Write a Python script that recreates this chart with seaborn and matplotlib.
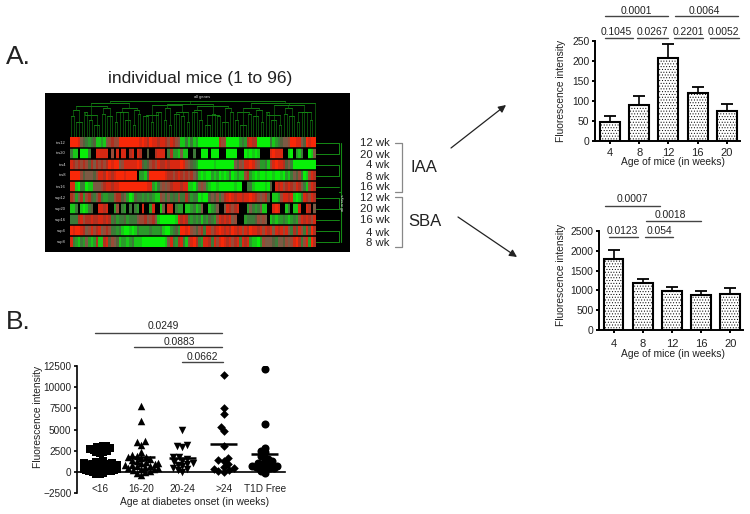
import matplotlib
matplotlib.use("Agg")
import matplotlib.pyplot as plt
from matplotlib.colors import ListedColormap
import numpy as np
import pandas as pd
import seaborn as sns

sns.set_style("white")
plt.rcParams["font.family"] = ["Liberation Sans", "DejaVu Sans"]
plt.rcParams["hatch.linewidth"] = 0.4

W, H = 750, 514
INK = "#222222"

# heat map, one digit per mouse: 0 = bright green ... 9 = bright red, x = no value
row_labels = ["ins12", "ins20", "ins4", "ins8", "ins16", "ssp12", "ssp20", "ssp16", "ssp4", "ssp8"]
heat_rows = [
    "999854323411 215676699999 999898798878 876876511313 120000000076 600000232787 700000312345 569988549899",
    "311x0003xx88 888x6x8x88x7 8x87xx4xx788 8x37221511xx 3xx000x000xx x0000xxx0101 01xxxx89888x x10x213xx015",
    "876767647576 767989956888 889843467687 787888898654 320000001000 000054658898 652231689887 453000000000",
    "999964555468 879878999899 99x221499999 987767876767 541010021201 013012116721 010010010010 213546301687",
    "881033011555 678878899999 999999882135 656788878811 025652100100 0000100xx331 0000104x8786 787687531687",
    "762572674357 322336774520 143323232116 535343633742 330100454635 789878878898 765674x11268 878101387687",
    "113x10134xx8 878xx26x32x3 x32x8xx28xx1 5x88x322x112 3125xx1235xx 587678xxx253 23511xx898xx 13x118xx87x5",
    "333786778778 878734233423 335667567510 000001878732 323132432687 87856xxx2333 46565x121223 212326878768",
    "989987568678 567633231001 013222232223 100234299896 546738867898 787987868798 878687858786 853748638497",
    "832132521271 178465412212 311100000000 015832783168 973288738689 878678387821 102655543554 656897368297",
]
heat_colors = ["#08f008", "#18c818", "#2a9a2a", "#3c7a38", "#56603c", "#7c5a44",
               "#984a36", "#b03020", "#d82812", "#f82808"]

# dendrogram: how many nodes join at each level, and the heights they join at
tree_sizes = [
    [2, 3, 2, 2, 3, 2, 3, 2, 2, 3, 2, 2, 3, 2, 3, 2, 2, 3, 2, 2, 3, 2, 3, 2, 2, 3, 2, 2, 3, 2, 3, 2, 2, 3, 2, 2, 3, 2, 3, 2, 1],
    [2, 3, 2, 3, 2, 3, 2, 3, 2, 3, 2, 3, 2, 3, 2, 3, 1],
    [3, 2, 3, 3, 2, 3, 1],
    [2, 2, 3],
    [3],
]
tree_heights = [[20, 15, 24, 17, 12, 22], [26, 21, 28, 24], [30, 28, 31], [33, 32], [35]]
row_tree_pairs = [(0, 1), (2, 3), (5, 6), (8, 9)]

ages = ["4", "8", "12", "16", "20"]
iaa_means = [48, 91, 207, 121, 74]
iaa_tops = [62, 113, 243, 135, 92]
sba_means = [1800, 1180, 990, 880, 900]
sba_tops = [2030, 1300, 1080, 980, 1060]

groups = ["<16", "16-20", "20-24", ">24", "T1D Free"]
group_markers = ["s", "^", "v", "D", "o"]
group_sizes = [5.4, 5.4, 5.4, 4.4, 5.8]
swarm_sizes = [2.6, 3.4, 3.6, 3.6, 2.6]
onset_lt16 = [3100, 3000, 2900, 2800, 2700, 2700, 2600, 2500, 2400, 2300, 2200, 1300, 1200, 1100, 1000, 1000, 900,
              900, 850, 800, 800, 750, 700, 700, 650, 600, 600, 550, 500, 500, 450, 400, 400, 350, 300, 300,
              250, 200, 200, 150, 100, 100, 50, 0, -100, -200, -300]
onset_16_20 = [7750, 6000, 3600, 3500, 3200, 2400, 2000, 1900, 1800, 1700, 1600, 1500, 1400, 1300, 1200, 1100, 1000,
               900, 850, 800, 700, 650, 600, 500, 400, 350, 300, 200, 100, 0, -100, -400]
onset_20_24 = [5000, 3200, 3000, 2900, 1800, 1700, 1500, 1300, 1200, 1000, 900, 800, 700, 500, 300, 200, 0]
onset_gt24 = [11400, 7500, 6800, 5300, 4800, 3100, 1600, 1400, 1300, 900, 600, 400, 300, 200, 100, 0]
onset_free = [12100, 5600, 2800, 2500, 2300, 1900, 1700, 1500, 1300, 1200, 1100, 1000, 900, 800, 700, 650, 600,
              550, 500, 450, 400, 300, 100, -100]
onset_values = [onset_lt16, onset_16_20, onset_20_24, onset_gt24, onset_free]
onset_means = [1300, 1750, 1600, 3300, 2150]

wk_labels = ["12 wk", "20 wk", "4 wk", "8 wk", "16 wk", "12 wk", "20 wk", "16 wk", "4 wk", "8 wk"]
wk_y = [143, 155, 165.5, 177, 187.5, 198, 209, 220, 232.5, 243]

# p value: text, text centre x, text y, line start, line end, line y
iaa_p = [("0.0001", 636, 11, 605, 668, 16), ("0.0064", 704, 11, 675, 738, 16),
         ("0.1045", 616, 32, 605, 633, 38), ("0.0267", 652, 32, 637, 668, 38),
         ("0.2201", 688, 32, 674, 703, 38), ("0.0052", 723, 32, 710, 739, 38)]
sba_p = [("0.0007", 632, 199, 605, 660, 206), ("0.0018", 670, 215, 646, 701, 221),
         ("0.0123", 622, 231, 609, 638, 237), ("0.054", 659, 231, 645, 673, 237)]
onset_p = [("0.0249", 163, 326, 95, 222, 333), ("0.0883", 179, 342, 134, 222, 347),
           ("0.0662", 202, 357, 182, 223, 362)]


def px_axes(fig, left, top, right, bottom):
    return fig.add_axes([left / W, 1 - bottom / H, (right - left) / W, (bottom - top) / H])


def draw_tree(ax):
    nodes = [(i + 0.5, 0) for i in range(96)]
    for sizes, heights in zip(tree_sizes, tree_heights):
        joined = []
        start = 0
        for k, size in enumerate(sizes):
            part = nodes[start:start + size]
            start += size
            if size == 1:
                joined.append(part[0])
                continue
            top = heights[k % len(heights)]
            for x, y in part:
                ax.plot([x, x], [y, top], color="#0f6a0f", lw=0.5)
            ax.plot([part[0][0], part[-1][0]], [top, top], color="#169016", lw=0.6)
            joined.append((np.mean([p[0] for p in part]), top))
        nodes = joined


def style_axes(ax, lw=1.4):
    sns.despine(ax=ax)
    for spine in ["left", "bottom"]:
        ax.spines[spine].set_linewidth(lw)
        ax.spines[spine].set_color("black")
    ax.tick_params(left=True, bottom=True, length=2.5, width=lw, labelsize=7.4,
                   labelcolor=INK, pad=1.5, color="black")


def bar_panel(fig, box, x0, means, tops, yticks, ymax, pad):
    ax = px_axes(fig, *box)
    sns.barplot(x=ages, y=means, order=ages, color="white", edgecolor="black", linewidth=1.5,
                hatch="......", width=0.68, saturation=1, ax=ax)
    err = np.array(tops) - np.array(means)
    ax.errorbar(range(len(ages)), means, yerr=[np.zeros(len(err)), err], fmt="none", ecolor="black",
                elinewidth=1.2, capsize=4.2, capthick=1.3)
    step = 29.2
    ax.set_xlim((box[0] - x0) / step, (box[2] - x0) / step)
    ax.set_ylim(0, ymax)
    ax.set_yticks(yticks)
    style_axes(ax)
    ax.tick_params(axis="x", pad=pad, labelsize=8)
    ax.set_xlabel("Age of mice (in weeks)", fontsize=7.4, color=INK, va="center")
    ax.set_ylabel("Fluorescence intensity", fontsize=7.4, color=INK, va="center")
    return ax


fig = plt.figure(figsize=(W / 100, H / 100), dpi=100, facecolor="white")

# black panel with the heat map and its two dendrograms
panel = px_axes(fig, 45, 93, 350, 252)
panel.set_facecolor("black")
panel.set_xticks([])
panel.set_yticks([])
sns.despine(ax=panel, left=True, bottom=True)

heat = px_axes(fig, 70, 137, 316, 247)
heat_text = [r.replace(" ", "") for r in heat_rows]
heat_data = pd.DataFrame([[np.nan if c == "x" else int(c) for c in r] for r in heat_text], index=row_labels)
sns.heatmap(heat_data, cmap=ListedColormap(heat_colors), vmin=-0.5, vmax=9.5, cbar=False,
            xticklabels=False, yticklabels=row_labels, ax=heat)
heat.set_facecolor("black")
heat.hlines(range(1, 10), 0, 96, color="black", lw=1.1)
heat.tick_params(axis="y", length=0, labelsize=3, labelcolor="#dddddd", labelrotation=0, pad=3)

tree = px_axes(fig, 70, 100, 316, 137)
tree.set_xlim(0, 96)
tree.set_ylim(0, 36)
tree.axis("off")
draw_tree(tree)

side = px_axes(fig, 316, 137, 346, 247)
side.set_xlim(0, 30)
side.set_ylim(10, 0)
side.axis("off")
for i in range(10):
    side.plot([0, 23], [i + 0.5, i + 0.5], color="#158a15", lw=0.7)
for a, b in row_tree_pairs:
    side.plot([23, 23], [a + 0.5, b + 0.5], color="#158a15", lw=0.7)
side.plot([25, 25], [0.5, 9.5], color="#158a15", lw=0.8)
side.plot([23, 25], [5, 5], color="#158a15", lw=0.8)

# top right, IAA
ax_iaa = bar_panel(fig, (595, 41, 740, 141), 610, iaa_means, iaa_tops, [0, 50, 100, 150, 200, 250], 250, 2.5)
# bottom right, SBA
ax_sba = bar_panel(fig, (599, 231, 743, 330), 613.5, sba_means, sba_tops, [0, 500, 1000, 1500, 2000, 2500], 2500, 4)

# bottom left, age at onset
ax_on = px_axes(fig, 77, 366, 285, 493)
onset_df = pd.DataFrame([(g, v) for g, vals in zip(groups, onset_values) for v in vals], columns=["group", "value"])
swarm_marks = []
for g, m, s, sw in zip(groups, group_markers, group_sizes, swarm_sizes):
    before = len(ax_on.collections)
    sns.swarmplot(data=onset_df[onset_df["group"] == g], x="group", y="value", order=groups, marker=m,
                  size=sw, color="black", linewidth=0, warn_thresh=1, ax=ax_on)
    swarm_marks.append((ax_on.collections[before:], s))
ax_on.hlines(onset_means, np.arange(5) - 0.33, np.arange(5) + 0.33, color="black", lw=1.8, zorder=5)
ax_on.set_xlim(-0.56, 4.49)
ax_on.set_ylim(-2500, 12500)
ax_on.set_yticks([-2500, 0, 2500, 5000, 7500, 10000, 12500])
style_axes(ax_on, lw=1.2)
ax_on.spines["bottom"].set_position(("data", 0))
ax_on.tick_params(axis="x", length=0, pad=8.5, labelsize=7.2)
ax_on.tick_params(axis="y", labelsize=7.2)
ax_on.set_xlabel("Age at diabetes onset (in weeks)", fontsize=7.4, color=INK, va="center")
ax_on.set_ylabel("Fluorescence intensity", fontsize=7.4, color=INK, va="center")

# seaborn lays the swarm out when it draws: fix that layout, then make the markers
# bigger so they overlap into a block like the original
fig.canvas.draw()
for colls, s in swarm_marks:
    for coll in colls:
        coll.__dict__.pop("draw", None)
        coll.set_sizes([s ** 2])

# page layer in pixel coordinates for the labels, brackets and arrows
page = fig.add_axes([0, 0, 1, 1], zorder=10)
page.set_xlim(0, W)
page.set_ylim(H, 0)
page.axis("off")
page.patch.set_alpha(0)

ax_iaa.xaxis.set_label_coords(673, 162, transform=page.transData)
ax_iaa.yaxis.set_label_coords(561, 91, transform=page.transData)
ax_sba.xaxis.set_label_coords(673, 354, transform=page.transData)
ax_sba.yaxis.set_label_coords(561, 275, transform=page.transData)
ax_on.xaxis.set_label_coords(195, 502, transform=page.transData)
ax_on.yaxis.set_label_coords(38, 417, transform=page.transData)

page.text(6, 57, "A.", fontsize=19, color=INK, va="center")
page.text(6, 322, "B.", fontsize=19, color=INK, va="center")
page.text(200, 78, "individual mice (1 to 96)", fontsize=12.5, color=INK, ha="center", va="center")
page.text(202, 97, "all genes", fontsize=3, color="#dddddd", ha="center", va="center")
page.text(343, 203, "all arrays", fontsize=3, color="#dddddd", ha="center", va="center", rotation=90)

for label, y in zip(wk_labels, wk_y):
    page.text(390, y, label, fontsize=8.2, color=INK, ha="right", va="center")
page.plot([395, 402, 402, 395], [143, 143, 192, 192], color="#888888", lw=0.9)
page.plot([395, 402, 402, 395], [197, 197, 247, 247], color="#888888", lw=0.9)
page.text(424, 167, "IAA", fontsize=12, color=INK, ha="center", va="center")
page.text(425, 221, "SBA", fontsize=12, color=INK, ha="center", va="center")

page.annotate("", xy=(506, 105), xytext=(451, 148),
              arrowprops=dict(arrowstyle="-|>", color="#222222", lw=0.9, mutation_scale=11, shrinkA=0, shrinkB=0))
page.annotate("", xy=(517, 257), xytext=(458, 217),
              arrowprops=dict(arrowstyle="-|>", color="#222222", lw=0.9, mutation_scale=11, shrinkA=0, shrinkB=0))

for text, tx, ty, x1, x2, ly in iaa_p + sba_p + onset_p:
    page.text(tx, ty, text, fontsize=7.4, color=INK, ha="center", va="center")
    page.plot([x1, x2], [ly, ly], color="#444444", lw=1.0)

fig.savefig("out.png", dpi=100)
